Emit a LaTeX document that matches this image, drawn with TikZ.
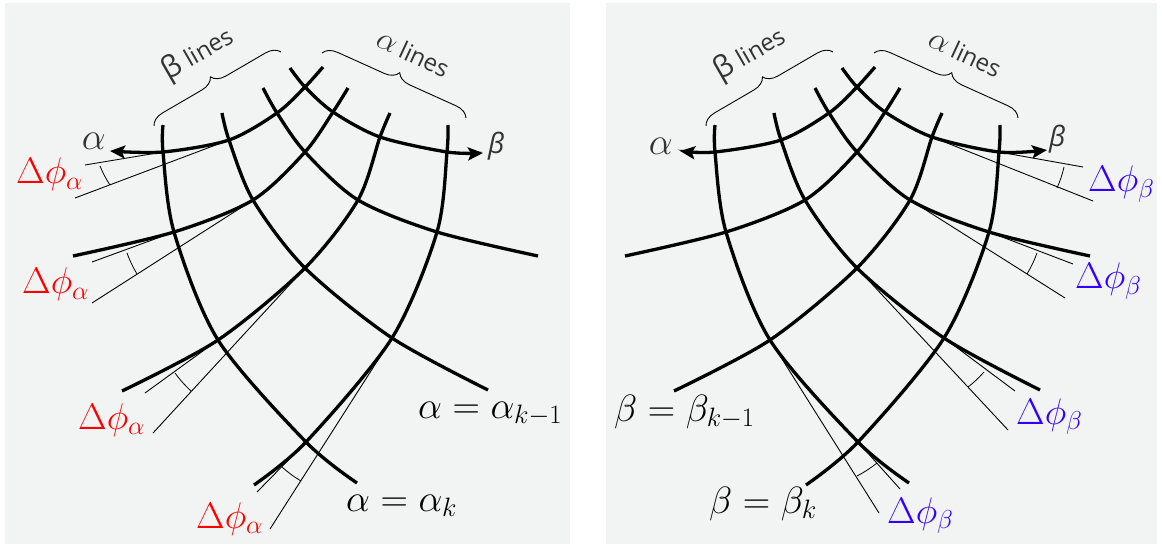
\RequirePackage{fix-cm}
\documentclass[tikz,border=0pt]{standalone}
\usepackage{fontspec}
\newfontfamily\slsans{Open Sans}
\usepackage{xcolor}
\definecolor{slbg}{HTML}{F2F3F3}
\definecolor{slred}{HTML}{FF0000}
\definecolor{slblue}{HTML}{3300FF}
\definecolor{slgray}{HTML}{333333}
\usepackage{tikz}
\usetikzlibrary{arrows.meta,decorations.pathreplacing}

\begin{document}
\begin{tikzpicture}[x=1pt,y=-1pt,
  slip/.style={line width=3.3pt},
  sliparrow/.style={slip,-{Stealth[length=15pt,width=13pt,inset=3pt]}},
  tangent/.style={line width=0.9pt},
  dphi/.style={line width=0.8pt},
  bracket/.style={decorate,decoration={brace,amplitude=14pt},line width=0.9pt},
  eqlbl/.style={inner sep=0pt,anchor=base west,font=\fontsize{38}{42}\selectfont},
  philbl/.style={inner sep=0pt,anchor=base west,font=\fontsize{37}{40}\selectfont},
  arrlbl/.style={inner sep=0pt,anchor=base east,text=slgray},
  linelbl/.style={inner sep=0pt,text=slgray,font=\slsans\fontsize{24}{28}\selectfont}]
\useasboundingbox (0,0) rectangle (1162,545);
\fill[slbg] (5,3) rectangle (570,544);
\fill[slbg] (606,3) rectangle (1157,544);

% the same slip-line net in both panels
\foreach \sx/\pn/\atx/\btx/\bty in {0/l/110/483/153,552/r/128/495/150}{
\begin{scope}[xshift=\sx pt]
\coordinate (\pn11) at (163,152); \coordinate (\pn12) at (174,232);
\coordinate (\pn13) at (218,340); \coordinate (\pn14) at (306,442);
\coordinate (\pn21) at (229,140); \coordinate (\pn22) at (253,200);
\coordinate (\pn23) at (305,268); \coordinate (\pn24) at (392,338);
\coordinate (\pn31) at (277,113); \coordinate (\pn32) at (305,152);
\coordinate (\pn33) at (358,200); \coordinate (\pn34) at (437,232);
\coordinate (\pn41) at (305,87);  \coordinate (\pn42) at (333,112);
\coordinate (\pn43) at (380,137); \coordinate (\pn44) at (447,152);
\draw[slip] plot[smooth] coordinates {(163,125) (\pn11) (\pn12) (\pn13) (\pn14) (357,483)};
\draw[slip] plot[smooth] coordinates {(222,113) (\pn21) (\pn22) (\pn23) (\pn24) (488,390)};
\draw[slip] plot[smooth] coordinates {(263,88) (\pn31) (\pn32) (\pn33) (\pn34) (538,256)};
\draw[sliparrow] plot[smooth] coordinates {(290,68) (\pn41) (\pn42) (\pn43) (\pn44) (\btx,\bty)};
\draw[sliparrow] plot[smooth] coordinates {(323,67) (\pn41) (\pn31) (\pn21) (\pn11) (\atx,151)};
\draw[slip] plot[smooth] coordinates {(73,256) (\pn12) (\pn22) (\pn32) (\pn42) (348,88)};
\draw[slip] plot[smooth] coordinates {(122,391) (\pn13) (\pn23) (\pn33) (\pn43) (390,113)};
\draw[slip] plot[smooth] coordinates {(254,485) (\pn14) (\pn24) (\pn34) (\pn44) (448,125)};
\draw[bracket] (154,126) -- (281,52);
\draw[bracket] (322,53) -- (466,118);
\node[linelbl,rotate=30] (\pn-bl) at (198,54) {{\fontsize{30}{30}\selectfont β}\hspace{7pt}lines};
\node[linelbl,rotate=-25] (\pn-al) at (413,54) {{\fontsize{32}{32}\selectfont$\alpha$}\hspace{5pt}lines};
\end{scope}}

% left panel: angle steps along the alpha lines
\draw[tangent] (l11) -- (85,165) (l21) -- (75,198)
  (l12) -- (92,262) (l22) -- (92,303)
  (l13) -- (145,393) (l23) -- (153,433)
  (l14) -- (257,492) (l24) -- (270,529);
\draw[dphi] (100,166) to[bend right=5] (110,185)
  (127,253) to[bend right=5] (137,274)
  (175,373) to[bend right=5] (191,391)
  (282,467) to[bend right=5] (301,481);
\node[philbl,text=slred] (dpa1) at (16,184) {$\Delta\phi_\alpha$};
\node[philbl,text=slred] (dpa2) at (22,294) {$\Delta\phi_\alpha$};
\node[philbl,text=slred] (dpa3) at (78,429) {$\Delta\phi_\alpha$};
\node[philbl,text=slred] (dpa4) at (196,528) {$\Delta\phi_\alpha$};
\node[eqlbl] (ak1) at (418,418) {$\alpha=\alpha_{k-1}$};
\node[eqlbl] (ak) at (346,511) {$\alpha=\alpha_k$};
\node[arrlbl,font=\fontsize{38}{40}\selectfont] (la) at (106,150) {$\alpha$};
\node[arrlbl,anchor=base west,font=\slsans\itshape\fontsize{28}{30}\selectfont] (lb) at (488,154) {β};

% right panel: angle steps along the beta lines
\draw[tangent] (r44) -- (1083,167) (r43) -- (1093,201)
  (r34) -- (1073,264) (r33) -- (1065,298)
  (r24) -- (1015,391) (r23) -- (1008,430)
  (r14) -- (900,489) (r13) -- (879,513);
\draw[dphi] (1064,167) to[bend left=5] (1057,188)
  (1037,253) to[bend left=5] (1027,274)
  (984,372) to[bend left=5] (968,387)
  (877,463) to[bend left=5] (857,476);
\node[philbl,text=slblue] (dpb1) at (1088,192) {$\Delta\phi_\beta$};
\node[philbl,text=slblue] (dpb2) at (1075,289) {$\Delta\phi_\beta$};
\node[philbl,text=slblue] (dpb3) at (1016,424) {$\Delta\phi_\beta$};
\node[philbl,text=slblue] (dpb4) at (887,523) {$\Delta\phi_\beta$};
\node[eqlbl] (bk1) at (614,421) {$\beta=\beta_{k-1}$};
\node[eqlbl] (bk) at (709,513) {$\beta=\beta_k$};
\node[arrlbl,font=\fontsize{38}{40}\selectfont] (ra) at (673,155) {$\alpha$};
\node[arrlbl,anchor=base west,font=\slsans\itshape\fontsize{28}{30}\selectfont] (rb) at (1049,147) {β};
\end{tikzpicture}
\end{document}
